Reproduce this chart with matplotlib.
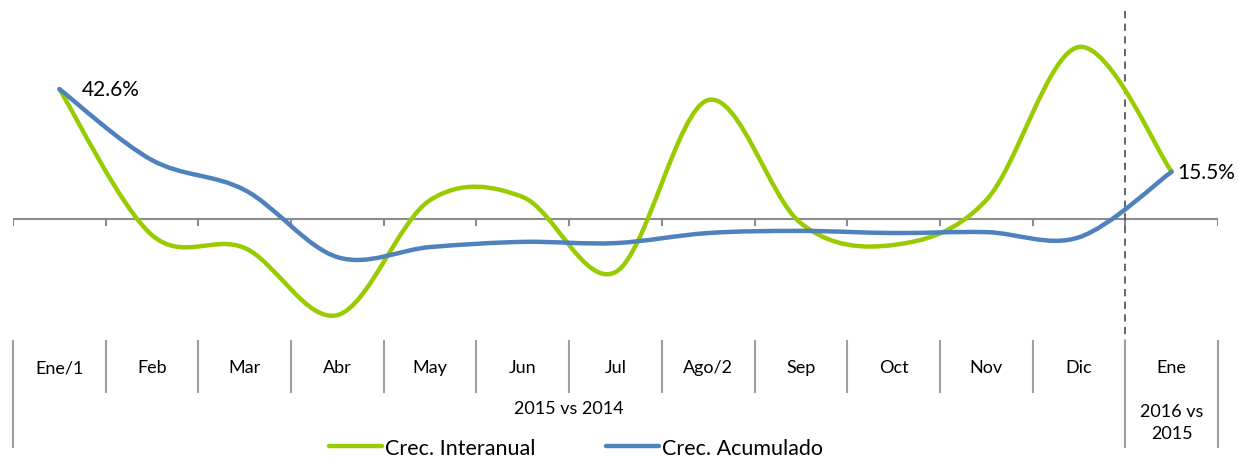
import numpy as np
import matplotlib
matplotlib.use("Agg")
import matplotlib.pyplot as plt
from matplotlib.path import Path
from matplotlib.patches import PathPatch
from matplotlib.lines import Line2D

plt.rcParams['font.family'] = ['Lato', 'DejaVu Sans']

months = ['Ene/1', 'Feb', 'Mar', 'Abr', 'May', 'Jun', 'Jul',
          'Ago/2', 'Sep', 'Oct', 'Nov', 'Dic', 'Ene']
interanual = [42.6, -5.3, -9.5, -31.5, 6.2, 7.2, -17.4, 39.0, -1.4, -8.5, 6.2, 56.4, 15.5]
acumulado = [42.6, 19.3, 9.5, -12.5, -9.2, -7.5, -7.9, -4.6, -3.9, -4.6, -4.3, -6.0, 15.5]
group_labels = ['2015 vs 2014', '2016 vs\n2015']
series_names = ['Crec. Interanual', 'Crec. Acumulado']
colors = ['#99CC00', '#4F81BD']


def smooth_path(xs, ys):
    # bezier control points like excel's smoothed line
    pts = np.column_stack([xs, ys]).astype(float)
    n = len(pts)
    verts = [pts[0]]
    codes = [Path.MOVETO]
    for i in range(n - 1):
        p0 = pts[max(i - 1, 0)]
        p1 = pts[i]
        p2 = pts[i + 1]
        p3 = pts[min(i + 2, n - 1)]
        c1 = p1 + (p2 - p0) / 6.0
        c2 = p2 - (p3 - p1) / 6.0
        verts += [c1, c2, p2]
        codes += [Path.CURVE4] * 3
    return Path(verts, codes)


W, H = 1239, 460
fig = plt.figure(figsize=(W / 100, H / 100), dpi=100)
# axes in pixel terms: x 13..1218, y 10..342
top_px, bot_px = 10, 342
ax = fig.add_axes([13 / W, 1 - bot_px / H, (1218 - 13) / W, (bot_px - top_px) / H])
scale = 3.05  # px per %
zero_px = 220
ax.set_xlim(-0.5, len(months) - 0.5)
ax.set_ylim(-(bot_px - zero_px) / scale, (zero_px - top_px) / scale)
ax.axis('off')

x = np.arange(len(months))
for vals, col in zip([interanual, acumulado], colors):
    ax.add_patch(PathPatch(smooth_path(x, vals), facecolor='none', edgecolor=col,
                           lw=3.2, capstyle='round', joinstyle='round', zorder=3))

# zero axis with ticks at category boundaries
ax.axhline(0, color='#8C8C8C', lw=1.5, zorder=1)
tick_len = 6 / scale
for b in np.arange(-0.5, len(months), 1.0):
    ax.plot([b, b], [0, -tick_len], color='#8C8C8C', lw=1.5, zorder=1)

# data labels at the ends
ax.text(0 + 0.24, interanual[0], f'{interanual[0]:.1f}%', fontsize=15,
        va='center', ha='left', color='black')
ax.text(len(months) - 1 + 0.06, interanual[-1], f'{interanual[-1]:.1f}%', fontsize=15,
        va='center', ha='left', color='black')

# dashed divider between years
ax.plot([11.5, 11.5], [(zero_px - 12) / scale, -(345 - zero_px) / scale],
        color='#595959', lw=1.3, ls=(0, (4, 3)), zorder=2, clip_on=False)

# category table below
tr = ax.get_xaxis_transform()


def ay(py):
    return (bot_px - py) / (bot_px - top_px)


for b in np.arange(-0.5, len(months), 1.0):
    long = b in (-0.5, 11.5, 12.5)
    ax.plot([b, b], [ay(342), ay(448 if long else 393)], color='#A0A0A0',
            lw=1.5, transform=tr, clip_on=False)
for i, m in enumerate(months):
    ax.text(i, ay(368), m, transform=tr, ha='center', va='center', fontsize=13)
ax.text(5.5, ay(409), group_labels[0], transform=tr, ha='center', va='center', fontsize=13)
ax.text(12, ay(423), group_labels[1], transform=tr, ha='center', va='center',
        fontsize=13, linespacing=1.45)

handles = [Line2D([], [], color=c, lw=3.2, solid_capstyle='round') for c in colors]
fig.legend(handles, series_names, loc='center', bbox_to_anchor=(576 / W, 1 - 449 / H),
           ncol=2, frameon=False, fontsize=15.5, handlelength=2.45, handletextpad=0.15,
           columnspacing=3.3, borderpad=0)

fig.savefig('out.png', dpi=100)
